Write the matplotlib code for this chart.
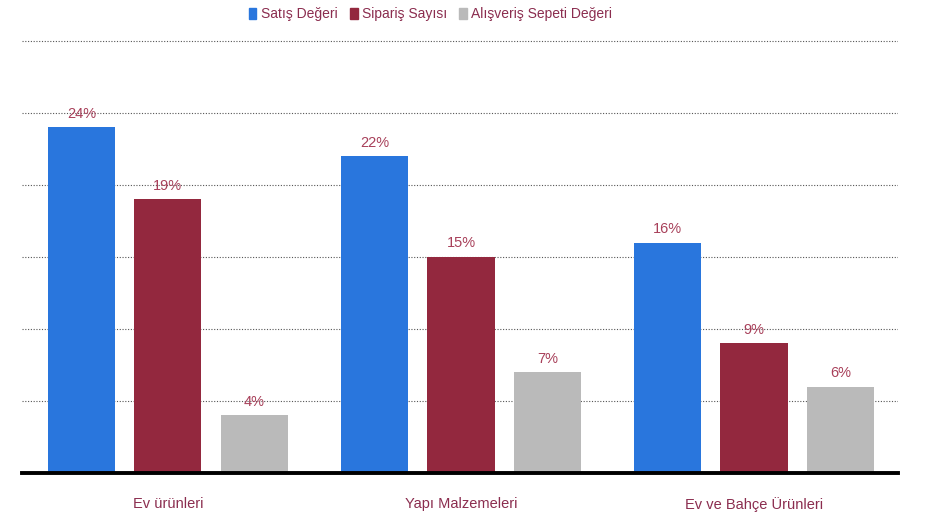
import matplotlib
matplotlib.use('Agg')
import matplotlib.pyplot as plt
import numpy as np
from matplotlib.patches import Patch

# veriler
kategoriler = ['Ev ürünleri', 'Yapı Malzemeleri', 'Ev ve Bahçe Ürünleri']
seriler = ['Satış Değeri', 'Sipariş Sayısı', 'Alışveriş Sepeti Değeri']
satis = [24, 22, 16]
siparis = [19, 15, 9]
sepet = [4, 7, 6]
renkler = ['#2976dd', '#93283e', '#bababa']

plt.rcParams['font.family'] = ['Liberation Sans Narrow', 'Liberation Sans', 'DejaVu Sans']
yazi_renk = '#8b2d4f'
deger_renk = '#a8405a'

fig = plt.figure(figsize=(9.36, 5.15), dpi=100)
ax = fig.add_axes([0.0235, 0.0816, 0.9355, 0.853])

x = np.arange(len(kategoriler))
off = 0.295
w = 0.229
for i, (vals, c) in enumerate(zip([satis, siparis, sepet], renkler)):
    bars = ax.bar(x + (i - 1) * off, vals, width=w, color=c, zorder=2, label=seriler[i])
    for b, v in zip(bars, vals):
        ax.text(b.get_x() + b.get_width() / 2, v + 0.45, '%d%%' % v,
                ha='center', va='bottom', fontsize=10.5, color=deger_renk)

ax.set_xlim(-0.498, 2.49)
ax.set_ylim(0, 30.5)
ax.set_yticks([5, 10, 15, 20, 25, 30])
ax.yaxis.grid(True, linestyle=(0, (1, 1.5)), color='#555555', linewidth=0.8, zorder=0)
ax.tick_params(axis='y', left=False, labelleft=False)
ax.set_xticks(x)
ax.set_xticklabels(kategoriler, fontsize=10.5, color=yazi_renk)
ax.tick_params(axis='x', length=0, pad=17)
for s in ['top', 'right', 'left']:
    ax.spines[s].set_visible(False)
ax.spines['bottom'].set_linewidth(2.8)
ax.spines['bottom'].set_color('black')
ax.spines['bottom'].set_zorder(3)

handles = [Patch(color=c) for c in renkler]
leg = fig.legend(handles, seriler, loc='upper center', bbox_to_anchor=(0.46, 1.01),
                 ncol=3, frameon=False, fontsize=10, handlelength=0.55, handleheight=0.9,
                 handletextpad=0.3, columnspacing=0.9)
for t in leg.get_texts():
    t.set_color(yazi_renk)

fig.savefig('out.png', dpi=100)
